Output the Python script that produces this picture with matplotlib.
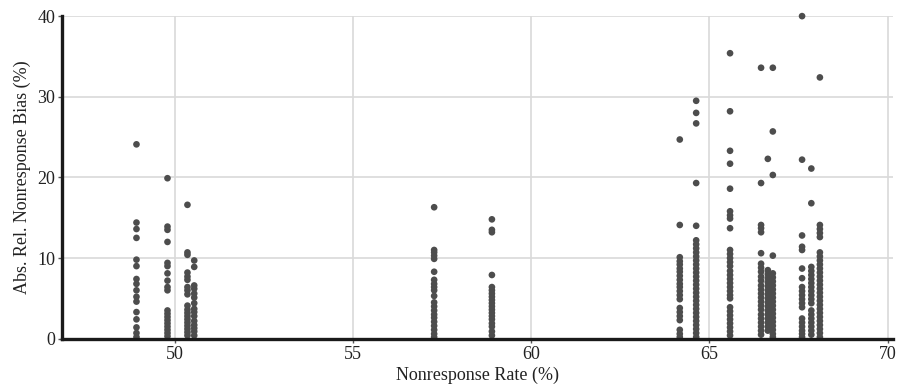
import matplotlib.pyplot as plt
import numpy as np

# nonresponse rate of each study (x) and the abs. relative bias estimates in it (y)
rates = [48.93, 49.8, 50.36, 50.55, 57.28, 58.9, 64.17, 64.63, 65.58,
         66.45, 66.64, 66.78, 67.6, 67.86, 68.1]

bias = [
    [24.1, 14.4, 13.6, 12.5, 9.8, 9.0, 7.4, 6.8, 6.0, 5.2, 4.6, 3.3, 2.4, 1.4, 0.7, 0.2],
    [19.9, 13.9, 13.5, 12.0, 9.4, 9.0, 8.1, 7.2, 6.4, 6.0, 3.5, 3.1, 2.7, 2.3, 1.9, 1.5, 1.1, 0.7, 0.3],
    [16.6, 10.7, 10.4, 8.2, 7.7, 7.3, 6.4, 6.0, 5.5, 4.1, 3.6, 3.2, 2.8, 2.4, 2.0, 1.6, 1.2, 0.8, 0.4],
    [9.7, 8.9, 6.6, 6.2, 5.6, 5.1, 4.4, 3.7, 3.3, 2.8, 2.2, 1.7, 1.3, 0.9, 0.4],
    [16.3, 11.0, 10.7, 10.3, 9.9, 8.3, 7.3, 6.8, 6.4, 6.0, 5.3, 4.5, 4.0, 3.5, 3.0, 2.6, 2.1, 1.6, 1.1, 0.6, 0.2],
    [14.8, 13.5, 13.2, 7.9, 6.4, 6.0, 5.6, 5.2, 4.8, 4.4, 4.0, 3.6, 3.2, 2.8, 2.4, 1.9, 1.5, 0.9, 0.4],
    [24.7, 14.1, 10.1, 9.6, 9.2, 8.7, 8.3, 7.8, 7.3, 6.8, 6.4, 5.9, 5.4, 4.9, 3.8, 3.3, 2.8, 2.3, 1.1, 0.6, 0.2],
    [29.5, 28.0, 26.7, 19.3, 14.0, 12.2, 11.7, 11.2, 10.7, 10.2, 9.7, 9.2, 8.7, 8.2, 7.7, 7.2, 6.7,
     6.2, 5.7, 5.2, 4.7, 4.2, 3.7, 3.2, 2.7, 2.2, 1.7, 1.2, 0.7, 0.2],
    [35.4, 28.2, 23.3, 21.7, 18.6, 15.8, 15.3, 14.9, 13.7, 11.0, 10.5, 10.0, 9.5, 9.0, 8.4, 7.9, 7.4,
     6.9, 6.4, 5.9, 5.4, 5.0, 3.9, 3.4, 2.9, 2.4, 1.9, 1.4, 0.9, 0.4],
    [33.6, 19.3, 14.1, 13.7, 13.2, 10.6, 9.3, 8.8, 8.3, 7.7, 7.2, 6.6, 6.1, 5.6, 5.1, 4.6, 4.1, 3.6,
     3.0, 2.5, 2.0, 1.5, 1.0, 0.5],
    [22.3, 8.5, 8.0, 7.5, 7.0, 6.5, 6.0, 5.5, 5.0, 4.5, 4.0, 3.5, 3.0, 2.5, 2.0, 1.5, 1.0],
    [33.6, 25.7, 20.3, 10.3, 8.1, 7.6, 7.1, 6.6, 6.1, 5.6, 5.1, 4.6, 4.1, 3.6, 3.1, 2.6, 2.1, 1.6, 1.1, 0.6, 0.2],
    [40.0, 22.2, 12.8, 11.4, 11.0, 8.7, 7.5, 6.4, 5.9, 5.4, 4.9, 4.4, 3.9, 2.5, 2.0, 1.5, 1.0, 0.6, 0.2],
    [21.1, 16.8, 8.9, 8.4, 7.9, 7.4, 6.9, 6.4, 5.9, 5.4, 4.9, 4.4, 3.5, 3.0, 2.5, 2.0, 1.5, 1.0, 0.5],
    [32.4, 14.1, 13.6, 13.1, 12.6, 10.7, 10.2, 9.7, 9.2, 8.7, 8.2, 7.7, 7.2, 6.7, 6.2, 5.7, 5.2, 4.7,
     4.2, 3.7, 3.2, 2.7, 2.2, 1.7, 1.2, 0.7, 0.2],
]

x_ticks = [50, 55, 60, 65, 70]
y_ticks = [0, 10, 20, 30, 40]

plt.rcParams['font.family'] = ['Liberation Serif', 'DejaVu Serif']

fig = plt.figure(figsize=(8.98, 3.84), dpi=100)
ax = fig.add_axes([0.069, 0.118, 0.925, 0.840])

xs = np.concatenate([[r] * len(b) for r, b in zip(rates, bias)])
ys = np.concatenate(bias)
ax.scatter(xs, ys, s=23, color='#4d4d4d', edgecolors='none', zorder=3, clip_on=False)

ax.set_xlim(46.84, 70.14)
ax.set_ylim(0, 40)
ax.set_xticks(x_ticks)
ax.set_yticks(y_ticks)
ax.grid(True, color='#d9d9d9', linewidth=1.2)
ax.set_axisbelow(True)

for side in ['top', 'right']:
    ax.spines[side].set_visible(False)
for side in ['left', 'bottom']:
    ax.spines[side].set_linewidth(2.4)
    ax.spines[side].set_color('#1a1a1a')
    ax.spines[side].set_zorder(4)

ax.tick_params(length=3, width=1, color='#555555', labelsize=13, labelcolor='#222222', pad=2)
ax.set_xlabel('Nonresponse Rate (%)', fontsize=13, color='#222222', labelpad=3)
ax.set_ylabel('Abs. Rel. Nonresponse Bias (%)', fontsize=13, color='#222222', labelpad=4)

fig.savefig('out.png', dpi=100)
